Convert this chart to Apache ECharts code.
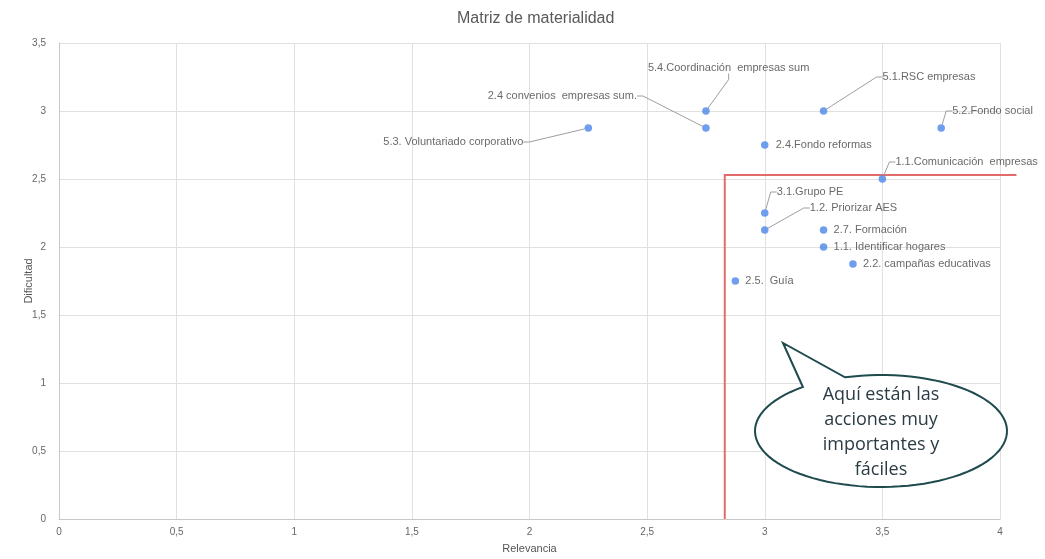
<!DOCTYPE html>
<html><head><meta charset="utf-8">
<script src="https://cdn.jsdelivr.net/npm/echarts@6/dist/echarts.min.js"></script>
<style>html,body{margin:0;padding:0;background:#fff}#c{width:1045px;height:559px}</style>
</head><body><div id="c"></div>
<script>
// ---- data ----
const actions = [
  '5.3. Voluntariado corporativo',
  '2.4 convenios  empresas sum.',
  '5.4.Coordinación  empresas sum',
  '5.1.RSC empresas',
  '5.2.Fondo social',
  '2.4.Fondo reformas',
  '1.1.Comunicación  empresas',
  '3.1.Grupo PE',
  '1.2. Priorizar AES',
  '2.7. Formación',
  '1.1. Identificar hogares',
  '2.2. campañas educativas',
  '2.5.  Guía'
];
const relevancia = [2.25, 2.75, 2.75, 3.25, 3.75, 3.0, 3.5, 3.0, 3.0, 3.25, 3.25, 3.375, 2.875];
const dificultad = [2.875, 2.875, 3.0, 3.0, 2.875, 2.75, 2.5, 2.25, 2.125, 2.125, 2.0, 1.875, 1.75];
const thresholdX = [2.83, 2.83, 4.07];
const thresholdY = [0, 2.53, 2.53];
const xTickMax = 4, yTickMax = 3.5, tickStep = 0.5;
const calloutText = ['Aquí están las', 'acciones muy', 'importantes y', 'fáciles'];

// ---- label layout (pixel offsets from each point) ----
const labelOffsets = [
  [-65, 14, 'right'], [-69, -32, 'right'], [-58, -43, 'left'], [59, -34, 'left'],
  [11, -17, 'left'], [11, 0, 'left'], [13, -17, 'left'], [12, -21, 'left'],
  [45, -22, 'left'], [10, 0, 'left'], [10, 0, 'left'], [10, 0, 'left'], [10, 0, 'left']
];

const FONT = '"Liberation Sans", Arial, sans-serif';
const fmt = v => String(v).replace('.', ',');

const points = actions.map((n, i) => ({
  name: n,
  value: [relevancia[i], dificultad[i]],
  labelLine: { show: Math.abs(labelOffsets[i][1]) > 5 }
}));

// speech-bubble outline (annotation shape)
function bubblePoints(cx, cy, rx, ry, a0, a1, tip) {
  const pts = [];
  const n = 90;
  for (let k = 0; k <= n; k++) {
    const a = (a0 + (a1 - a0) * k / n) * Math.PI / 180;
    pts.push([cx + rx * Math.cos(a), cy + ry * Math.sin(a)]);
  }
  pts.push(tip);
  return pts;
}

const chart = echarts.init(document.getElementById('c'), null, { renderer: 'canvas' });
chart.setOption({
  backgroundColor: '#ffffff',
  animation: false,
  title: {
    text: 'Matriz de materialidad', left: 452, top: 6,
    textStyle: { fontFamily: FONT, fontSize: 16, fontWeight: 'normal', color: '#595959' }
  },
  grid: { left: 59, right: 45, top: 43, bottom: 39 },
  xAxis: {
    type: 'value', min: 0, max: xTickMax, interval: tickStep,
    name: 'Relevancia', nameLocation: 'middle', nameGap: 24, nameMoveOverlap: false,
    nameTextStyle: { fontFamily: FONT, fontSize: 11, color: '#555' },
    axisLine: { show: true, lineStyle: { color: '#c8c8c8' } },
    axisTick: { show: false },
    axisLabel: { formatter: fmt, fontFamily: FONT, fontSize: 10, color: '#666', margin: 8 },
    splitLine: { show: true, lineStyle: { color: '#e0e0e0' } }
  },
  yAxis: {
    type: 'value', min: 0, max: yTickMax, interval: tickStep,
    name: 'Dificultad', nameLocation: 'middle', nameGap: 25, nameMoveOverlap: false,
    nameTextStyle: { fontFamily: FONT, fontSize: 11, color: '#555' },
    axisLine: { show: true, lineStyle: { color: '#c8c8c8' } },
    axisTick: { show: false },
    axisLabel: { formatter: fmt, fontFamily: FONT, fontSize: 10, color: '#666', margin: 13 },
    splitLine: { show: true, lineStyle: { color: '#e0e0e0' } }
  },
  series: [
    {
      type: 'custom', z: 1, silent: true, clip: false,
      data: [0],
      renderItem: function (params, api) {
        const pts = thresholdX.map((x, i) => api.coord([x, thresholdY[i]]));
        return {
          type: 'polyline',
          shape: { points: pts },
          style: { stroke: '#e06c6c', lineWidth: 2, fill: null }
        };
      }
    },
    {
      type: 'scatter', z: 3, symbolSize: 7.5,
      itemStyle: { color: '#4a86e8' },
      data: points,
      label: {
        show: true, formatter: p => p.name, fontFamily: FONT, fontSize: 11, color: '#444'
      },
      labelLine: { show: true, length2: 6, lineStyle: { color: '#9e9e9e', width: 1 } },
      labelLayout: function (params) {
        const o = labelOffsets[params.dataIndex];
        const cx = params.rect.x + params.rect.width / 2;
        const cy = params.rect.y + params.rect.height / 2;
        return { x: cx + o[0], y: cy + o[1], align: o[2], verticalAlign: 'middle' };
      }
    }
  ],
  graphic: [
    {
      type: 'polygon', z: 10,
      shape: { points: bubblePoints(881, 431, 126, 56, -106.6, 231.7, [783, 343]) },
      style: { fill: '#ffffff', stroke: '#1f4a4e', lineWidth: 2 }
    },
    {
      type: 'text', z: 11, x: 881, y: 432,
      style: {
        text: calloutText.join('\n'), align: 'center', verticalAlign: 'middle',
        fontFamily: '"Open Sans", sans-serif', fontSize: 18, lineHeight: 25, fill: '#2a3b44'
      }
    }
  ]
});
</script>
</body></html>
